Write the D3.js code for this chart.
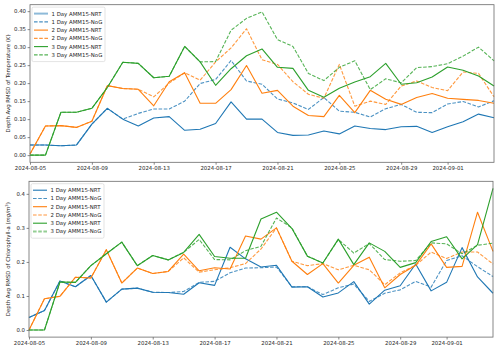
<!DOCTYPE html>
<html>
<head>
<meta charset="utf-8">
<script src="https://cdn.jsdelivr.net/npm/d3@7"></script>
<style>
  body { margin: 0; background: #fff; }
  svg { display: block; }
  text { font-family: "DejaVu Sans", sans-serif; fill: #262626; }
</style>
</head>
<body>
<svg id="chart" width="500" height="351"></svg>
<script>
// ---- data ----
const dates = ["2024-08-05","2024-08-06","2024-08-07","2024-08-08","2024-08-09","2024-08-10","2024-08-11",
  "2024-08-12","2024-08-13","2024-08-14","2024-08-15","2024-08-16","2024-08-17","2024-08-18","2024-08-19",
  "2024-08-20","2024-08-21","2024-08-22","2024-08-23","2024-08-24","2024-08-25","2024-08-26","2024-08-27",
  "2024-08-28","2024-08-29","2024-08-30","2024-08-31","2024-09-01","2024-09-02","2024-09-03","2024-09-04"];
const xTickLabels = ["2024-08-05","2024-08-09","2024-08-13","2024-08-17","2024-08-21","2024-08-25","2024-08-29","2024-09-01"];
const seriesNames = ["1 Day AMM15-NRT","1 Day AMM15-NoG","2 Day AMM15-NRT","2 Day AMM15-NoG","3 Day AMM15-NRT","3 Day AMM15-NoG"];

// temperature RMSD (K)
const temp1NRT = [0.028,0.028,0.026,0.028,0.086,0.130,0.100,0.081,0.103,0.107,0.069,0.072,0.088,0.148,0.100,0.100,0.063,0.055,0.056,0.067,0.059,0.081,0.074,0.071,0.079,0.080,0.063,0.079,0.093,0.114,0.104];
const temp1NoG = [0.028,0.028,0.026,0.028,0.086,0.130,0.100,0.116,0.128,0.128,0.150,0.199,0.210,0.263,0.206,0.197,0.156,0.145,0.127,0.160,0.122,0.119,0.106,0.129,0.141,0.119,0.118,0.142,0.149,0.134,0.151];
const temp2NRT = [0.003,0.081,0.082,0.077,0.094,0.193,0.185,0.183,0.137,0.204,0.229,0.144,0.144,0.182,0.249,0.172,0.180,0.136,0.110,0.107,0.166,0.118,0.180,0.155,0.141,0.160,0.171,0.158,0.155,0.152,0.144];
const temp2NoG = [0.003,0.081,0.082,0.077,0.094,0.193,0.185,0.183,0.162,0.200,0.229,0.208,0.259,0.298,0.351,0.265,0.252,0.204,0.169,0.158,0.252,0.136,0.150,0.141,0.192,0.206,0.188,0.179,0.231,0.227,0.162];
const temp3NRT = [0.000,0.000,0.119,0.119,0.130,0.188,0.258,0.255,0.215,0.219,0.302,0.259,0.194,0.240,0.276,0.295,0.244,0.241,0.180,0.161,0.186,0.203,0.218,0.255,0.197,0.201,0.217,0.245,0.236,0.220,0.192];
const temp3NoG = [0.000,0.000,0.119,0.119,0.130,0.188,0.258,0.255,0.215,0.219,0.302,0.259,0.260,0.347,0.380,0.398,0.321,0.302,0.227,0.207,0.244,0.262,0.182,0.212,0.201,0.243,0.246,0.254,0.275,0.300,0.262];

// chlorophyll-a RMSD (mg/m3)
const chl1NRT = [0.037,0.057,0.144,0.127,0.160,0.082,0.120,0.123,0.111,0.110,0.105,0.139,0.131,0.243,0.209,0.185,0.190,0.126,0.127,0.097,0.109,0.142,0.076,0.117,0.130,0.194,0.115,0.140,0.242,0.156,0.108];
const chl1NoG = [0.037,0.057,0.144,0.127,0.160,0.082,0.120,0.123,0.111,0.110,0.113,0.140,0.143,0.168,0.182,0.183,0.185,0.127,0.127,0.104,0.124,0.135,0.084,0.108,0.118,0.143,0.126,0.204,0.218,0.186,0.157];
const chl2NRT = [0.000,0.092,0.099,0.155,0.153,0.236,0.138,0.182,0.166,0.172,0.223,0.174,0.183,0.179,0.276,0.267,0.300,0.202,0.163,0.195,0.138,0.190,0.214,0.124,0.163,0.190,0.253,0.184,0.187,0.346,0.231];
const chl2NoG = [0.000,0.092,0.099,0.155,0.153,0.236,0.138,0.182,0.166,0.172,0.212,0.170,0.177,0.183,0.195,0.238,0.300,0.202,0.189,0.195,0.177,0.190,0.177,0.133,0.168,0.190,0.229,0.210,0.229,0.229,0.194];
const chl3NRT = [0.000,0.000,0.141,0.140,0.189,0.224,0.258,0.189,0.219,0.206,0.228,0.281,0.216,0.211,0.211,0.326,0.346,0.298,0.217,0.197,0.267,0.192,0.256,0.231,0.184,0.198,0.260,0.274,0.209,0.251,0.416];
const chl3NoG = [0.000,0.000,0.141,0.140,0.189,0.224,0.258,0.189,0.219,0.206,0.228,0.266,0.207,0.206,0.233,0.246,0.329,0.300,0.217,0.197,0.266,0.226,0.254,0.207,0.202,0.204,0.256,0.253,0.224,0.249,0.255];

const tempTicks = [0, 0.05, 0.10, 0.15, 0.20, 0.25, 0.30, 0.35, 0.40];
const chlTicks = [0, 0.1, 0.2, 0.3, 0.4];

// ---- drawing ----
const colors = ["#1f77b4", "#1f77b4", "#ff7f0e", "#ff7f0e", "#2ca02c", "#2ca02c"];
const parse = d3.utcParse("%Y-%m-%d");
const dateVals = dates.map(parse);
const svg = d3.select("#chart");
const fs = 5.4;

function drawPanel(p) {
  const x = d3.scaleUtc()
    .domain(d3.extent(dateVals))
    .range([p.left, p.right]);

  const all = p.series.flat();
  const [lo, hi] = d3.extent(all);
  const pad = (hi - lo) * 0.05;
  const y = d3.scaleLinear()
    .domain([lo - pad, hi + pad])
    .range([p.bottom, p.top]);

  const g = svg.append("g");

  // lines
  const line = d3.line()
    .x((d, i) => x(dateVals[i]))
    .y(d => y(d));

  p.series.forEach((vals, k) => {
    g.append("path")
      .datum(vals)
      .attr("d", line)
      .attr("fill", "none")
      .attr("stroke", colors[k])
      .attr("stroke-width", 1.1)
      .attr("stroke-linejoin", "round")
      .attr("stroke-dasharray", k % 2 ? "3.6,1.6" : null)
      .attr("opacity", k % 2 ? 0.8 : 1);
  });

  // axes
  const xAxis = g.append("g")
    .attr("transform", `translate(0,${p.bottom})`)
    .call(d3.axisBottom(x)
      .tickValues(xTickLabels.map(parse))
      .tickFormat(d3.utcFormat("%Y-%m-%d"))
      .tickSize(2.4)
      .tickPadding(1.6));

  const yAxis = g.append("g")
    .attr("transform", `translate(${p.left},0)`)
    .call(d3.axisLeft(y)
      .tickValues(p.ticks)
      .tickFormat(d3.format(p.fmt))
      .tickSize(2.4)
      .tickPadding(1.6));

  [xAxis, yAxis].forEach(a => {
    a.select(".domain").remove();
    a.selectAll(".tick line").attr("stroke", "#555").attr("stroke-width", 0.7);
    a.selectAll(".tick text")
      .attr("font-size", fs)
      .attr("font-family", "DejaVu Sans")
      .attr("fill", "#262626");
  });

  // frame
  g.append("rect")
    .attr("x", p.left)
    .attr("y", p.top)
    .attr("width", p.right - p.left)
    .attr("height", p.bottom - p.top)
    .attr("fill", "none")
    .attr("stroke", "#6a6a6a")
    .attr("stroke-width", 0.8);

  // y label
  const lab = g.append("text")
    .attr("transform", `translate(7.5,${(p.top + p.bottom) / 2}) rotate(-90)`)
    .attr("text-anchor", "middle")
    .attr("dominant-baseline", "central")
    .attr("font-size", fs);
  p.label(lab);

  // legend
  const lg = g.append("g").attr("transform", `translate(${p.left + 2},${p.top + 2.4})`);
  const rowH = 8.25;
  lg.append("rect")
    .attr("width", 73)
    .attr("height", rowH * 6 + 5)
    .attr("rx", 1.5)
    .attr("fill", "#fff")
    .attr("fill-opacity", 0.8)
    .attr("stroke", "#d0d0d0")
    .attr("stroke-width", 0.6);

  seriesNames.forEach((name, k) => {
    const yy = 6.5 + k * rowH;
    const hl = p.legendHighlight === k;
    lg.append("line")
      .attr("x1", 2).attr("x2", 16)
      .attr("y1", yy).attr("y2", yy)
      .attr("stroke", colors[k])
      .attr("stroke-width", hl ? 2 : 1.1)
      .attr("opacity", hl ? 0.5 : (k % 2 ? 0.8 : 1))
      .attr("stroke-dasharray", k % 2 ? "3.6,1.6" : null);
    lg.append("text")
      .attr("x", 19.5)
      .attr("y", yy)
      .attr("dominant-baseline", "central")
      .attr("font-size", fs)
      .text(name);
  });
}

drawPanel({
  left: 30, right: 494, top: 4.7, bottom: 162.3,
  series: [temp1NRT, temp1NoG, temp2NRT, temp2NoG, temp3NRT, temp3NoG],
  ticks: tempTicks, fmt: ".2f",
  legendHighlight: 0,
  label: t => {
    t.append("tspan").text("Depth Avg RMSD of Temperature (");
    t.append("tspan").attr("font-style", "italic").text("K");
    t.append("tspan").text(")");
  }
});

drawPanel({
  left: 29, right: 493, top: 181.3, bottom: 337.1,
  series: [chl1NRT, chl1NoG, chl2NRT, chl2NoG, chl3NRT, chl3NoG],
  ticks: chlTicks, fmt: ".1f",
  legendHighlight: 5,
  label: t => {
    t.append("tspan").text("Depth Avg RMSD of Chlorophyll-a (");
    t.append("tspan").attr("font-style", "italic").text("mg/m");
    t.append("tspan").attr("font-size", fs * 0.7).attr("dy", -2).text("3");
    t.append("tspan").attr("dy", 2).text(")");
  }
});
</script>
</body>
</html>
